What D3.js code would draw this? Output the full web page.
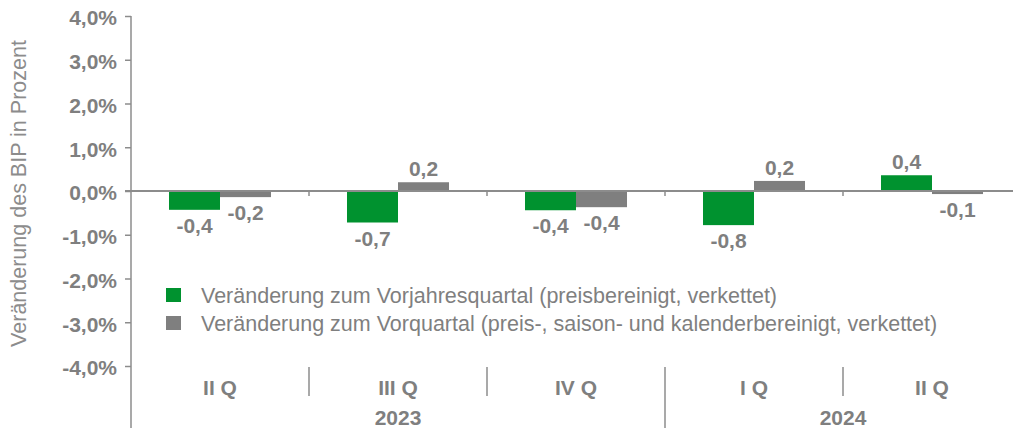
<!DOCTYPE html>
<html>
<head>
<meta charset="utf-8">
<script src="https://cdn.jsdelivr.net/npm/d3@7"></script>
<style>
  body { margin: 0; background: #fff; }
  svg { display: block; font-family: "Liberation Sans", Arial, sans-serif; }
</style>
</head>
<body>
<svg id="chart"></svg>
<script>
const width = 1013,
  height = 428,
  green = "#00922f",
  gray = "#7f7f7f",
  textColor = "#7f7f7f",
  fontSize = 21;

// data
const quarters = ["II Q 2023", "III Q 2023", "IV Q 2023", "I Q 2024", "II Q 2024"];
const quarterLabels = ["II Q", "III Q", "IV Q", "I Q", "II Q"];
const years = ["2023", "2024"];
const yearSpans = [[0, 2], [3, 4]];
const series = ["Veränderung zum Vorjahresquartal (preisbereinigt, verkettet)",
  "Veränderung zum Vorquartal (preis-, saison- und kalenderbereinigt, verkettet)"];
const vorjahr = [-0.43, -0.72, -0.44, -0.78, 0.36];
const vorquartal = [-0.14, 0.2, -0.37, 0.23, -0.07];
const vorjahrLabels = ["-0,4", "-0,7", "-0,4", "-0,8", "0,4"];
const vorquartalLabels = ["-0,2", "0,2", "-0,4", "0,2", "-0,1"];
const yTicks = [4, 3, 2, 1, 0, -1, -2, -3, -4];

const plotLeft = 131, plotRight = 1021, plotTop = 16, plotBottom = 366;

const svg = d3.select("#chart")
  .attr("width", width)
  .attr("height", height);

const y = d3.scaleLinear().domain([-4, 4]).range([plotBottom, plotTop]);
const x0 = d3.scaleBand().domain(quarters).range([plotLeft, plotRight]).padding(0);
const x1 = d3.scaleBand().domain([0, 1]).range([0, x0.bandwidth()])
  .paddingInner(0).paddingOuter(0.745);

// y axis
const yAxis = d3.axisLeft(y)
  .tickValues(yTicks)
  .tickSizeInner(6)
  .tickSizeOuter(0)
  .tickFormat(d => d.toFixed(1).replace(".", ",") + "%");

const gy = svg.append("g")
  .attr("transform", `translate(${plotLeft},0)`)
  .call(yAxis);
gy.select(".domain").remove();
gy.selectAll(".tick line").attr("stroke", "#8c8c8c").attr("stroke-width", 1.5);
gy.selectAll(".tick text")
  .attr("x", -14)
  .attr("dy", "0.42em")
  .attr("fill", textColor)
  .attr("font-size", fontSize)
  .attr("font-weight", "bold");

svg.append("line")
  .attr("x1", plotLeft).attr("x2", plotLeft)
  .attr("y1", plotTop).attr("y2", height)
  .attr("stroke", "#8c8c8c").attr("stroke-width", 1.5);

// bars
const rows = quarters.map((q, i) => ({
  q,
  vals: [
    { s: 0, v: vorjahr[i], label: vorjahrLabels[i], color: green },
    { s: 1, v: vorquartal[i], label: vorquartalLabels[i], color: gray }
  ]
}));

const grp = svg.append("g").selectAll("g")
  .data(rows)
  .enter().append("g")
  .attr("transform", d => `translate(${x0(d.q)},0)`);

grp.selectAll("rect")
  .data(d => d.vals)
  .enter().append("rect")
  .attr("x", d => x1(d.s))
  .attr("width", x1.bandwidth())
  .attr("y", d => y(Math.max(0, d.v)))
  .attr("height", d => Math.abs(y(d.v) - y(0)))
  .attr("fill", d => d.color);

grp.selectAll("text")
  .data(d => d.vals)
  .enter().append("text")
  .attr("x", d => x1(d.s) + x1.bandwidth() / 2)
  .attr("y", d => d.v < 0 ? y(d.v) + 23 : y(d.v) - 6)
  .attr("text-anchor", "middle")
  .attr("fill", textColor)
  .attr("font-size", fontSize)
  .attr("font-weight", "bold")
  .text(d => d.label);

// zero line with small ticks at category borders
svg.append("line")
  .attr("x1", plotLeft - 6).attr("x2", width)
  .attr("y1", y(0)).attr("y2", y(0))
  .attr("stroke", "#8c8c8c").attr("stroke-width", 2);

svg.append("g").selectAll("line")
  .data(quarters.slice(1))
  .enter().append("line")
  .attr("x1", d => x0(d)).attr("x2", d => x0(d))
  .attr("y1", y(0)).attr("y2", y(0) + 5)
  .attr("stroke", "#8c8c8c").attr("stroke-width", 1.5);

// category axis at the bottom
svg.append("g").selectAll("text")
  .data(quarters)
  .enter().append("text")
  .attr("x", d => x0(d) + x0.bandwidth() / 2)
  .attr("y", 395)
  .attr("text-anchor", "middle")
  .attr("fill", textColor)
  .attr("font-size", fontSize)
  .attr("font-weight", "bold")
  .text((d, i) => quarterLabels[i]);

svg.append("g").selectAll("line")
  .data(quarters.slice(1))
  .enter().append("line")
  .attr("x1", d => x0(d)).attr("x2", d => x0(d))
  .attr("y1", 367)
  .attr("y2", d => yearSpans.some(s => quarters[s[0]] === d) ? height : 396)
  .attr("stroke", "#8c8c8c").attr("stroke-width", 1.5);

svg.append("g").selectAll("text")
  .data(years)
  .enter().append("text")
  .attr("x", (d, i) => {
    const s = yearSpans[i];
    return (x0(quarters[s[0]]) + x0(quarters[s[1]]) + x0.bandwidth()) / 2;
  })
  .attr("y", 425)
  .attr("text-anchor", "middle")
  .attr("fill", textColor)
  .attr("font-size", fontSize)
  .attr("font-weight", "bold")
  .text(d => d);

// y axis title
svg.append("text")
  .attr("transform", `translate(25.5,${(40 + 347) / 2}) rotate(-90)`)
  .attr("text-anchor", "middle")
  .attr("fill", "#8c8c8c")
  .attr("font-size", 21.5)
  .text("Veränderung des BIP in Prozent");

// legend
const legend = svg.append("g").selectAll("g")
  .data(series)
  .enter().append("g")
  .attr("transform", (d, i) => `translate(166,${288 + i * 28})`);

legend.append("rect")
  .attr("width", 15).attr("height", 14)
  .attr("fill", (d, i) => i === 0 ? green : gray);

legend.append("text")
  .attr("x", 35).attr("y", 14.5)
  .attr("fill", textColor)
  .attr("font-size", 21.5)
  .text(d => d);
</script>
</body>
</html>
